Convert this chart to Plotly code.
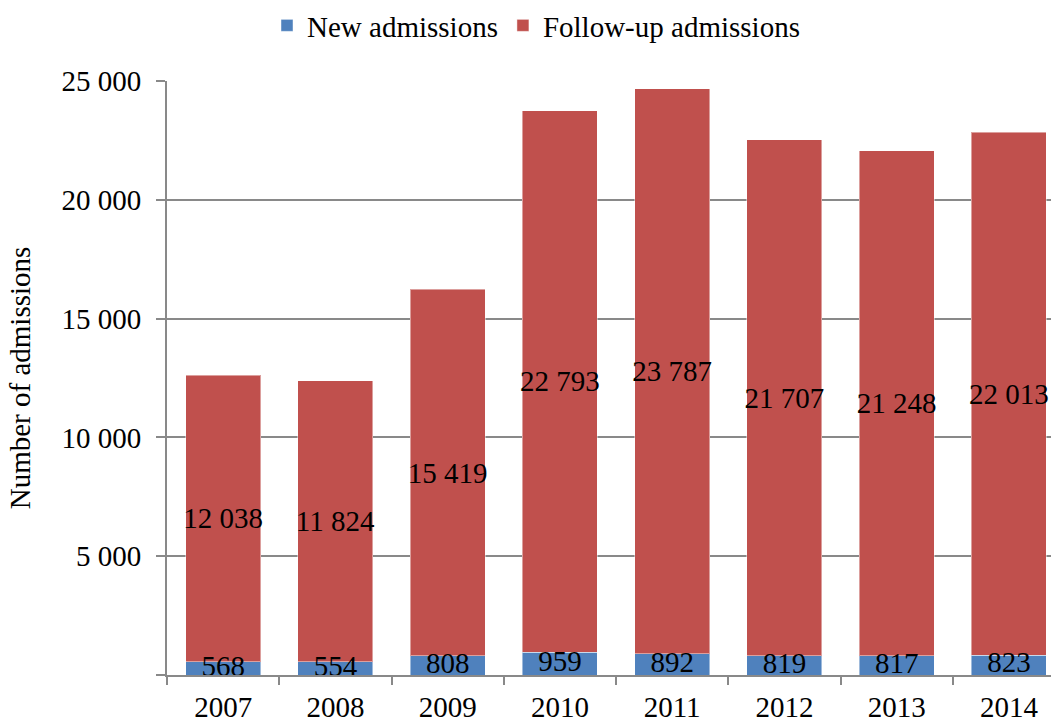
import plotly.graph_objects as go

years = ["2007", "2008", "2009", "2010", "2011", "2012", "2013", "2014"]
new_adm = [568, 554, 808, 959, 892, 819, 817, 823]
follow_adm = [12038, 11824, 15419, 22793, 23787, 21707, 21248, 22013]
y_ticks = [0, 5000, 10000, 15000, 20000, 25000]
y_tick_text = ["", "5 000", "10 000", "15 000", "20 000", "25 000"]

FONT = "Liberation Serif"
FS = 29


def fmt(v):
    return f"{v:,}".replace(",", " ")


fig = go.Figure()
fig.add_trace(go.Bar(
    x=years, y=new_adm, name="New admissions",
    marker=dict(color="#4F81BD", line=dict(color="rgba(255,255,255,0.45)", width=1)),
))
fig.add_trace(go.Bar(
    x=years, y=follow_adm, name="Follow-up admissions",
    marker=dict(color="#C0504D", line=dict(color="rgba(255,255,255,0.45)", width=1)),
    text=[fmt(v) for v in follow_adm],
    textposition="inside", insidetextanchor="middle", constraintext="none",
    textangle=0, textfont=dict(family=FONT, size=FS, color="black"),
))
# labels for the small "new admissions" segments, drawn on top
fig.add_trace(go.Scatter(
    x=years, y=[v / 2 for v in new_adm], mode="text",
    text=[fmt(v) for v in new_adm], textposition="middle center",
    textfont=dict(family=FONT, size=FS, color="black"),
    showlegend=False, hoverinfo="skip", cliponaxis=False,
))

fig.update_layout(
    width=1051, height=722,
    barmode="stack", bargap=0.332,
    margin=dict(l=167, r=0, t=81, b=47),
    paper_bgcolor="white", plot_bgcolor="white",
    font=dict(family=FONT, size=FS, color="black"),
    showlegend=True,
    legend=dict(orientation="h", xref="container", yref="container",
                x=0.51, xanchor="center", y=1.0, yanchor="top",
                font=dict(family=FONT, size=FS, color="black"),
                itemwidth=30, traceorder="normal"),
    xaxis=dict(
        type="category", range=[-0.5, 7.375],
        showline=True, linecolor="#898989", linewidth=2,
        ticks="outside", tickson="boundaries", ticklen=8, tickwidth=2, tickcolor="#898989",
        showgrid=False, ticklabelstandoff=5,
        tickfont=dict(family=FONT, size=FS, color="black"),
    ),
    yaxis=dict(
        range=[0, 25000], tickvals=y_ticks, ticktext=y_tick_text,
        showline=True, linecolor="#898989", linewidth=2,
        ticks="outside", ticklen=9, tickwidth=2, tickcolor="#898989",
        showgrid=True, gridcolor="#898989", gridwidth=2, zeroline=False,
        ticklabelstandoff=9,
        title=dict(text="Number of admissions", standoff=22,
                   font=dict(family=FONT, size=FS, color="black")),
        tickfont=dict(family=FONT, size=FS, color="black"),
    ),
)

fig.write_html("out.html")
